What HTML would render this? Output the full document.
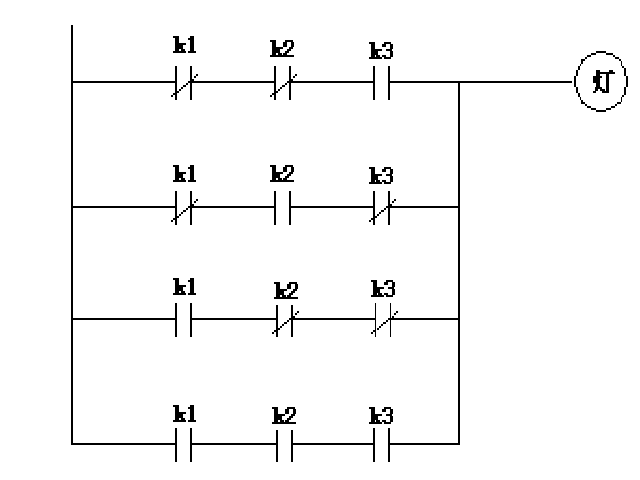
<!DOCTYPE html>
<html><head><meta charset="utf-8"><style>
html,body{margin:0;padding:0;background:#fff;width:640px;height:480px;overflow:hidden}
svg{display:block}
</style></head><body>
<svg width="640" height="480" viewBox="0 0 640 480">
<defs>
<g id="gk"><rect x="0" y="0" width="6" height="2"/><rect x="2" y="2" width="4" height="15"/><rect x="6" y="7" width="7" height="2"/><rect x="6" y="9" width="4" height="4"/><rect x="8" y="13" width="4" height="2"/><rect x="0" y="15" width="13" height="2"/></g><g id="gk3"><rect x="0" y="0" width="6" height="2"/><rect x="2" y="2" width="4" height="15"/><rect x="6" y="7" width="7" height="2"/><rect x="6" y="9" width="3" height="4"/><rect x="7" y="13" width="4" height="2"/><rect x="0" y="15" width="13" height="2"/></g><g id="gone"><rect x="17" y="0" width="4" height="2"/><rect x="15" y="2" width="6" height="2"/><rect x="17" y="4" width="4" height="11"/><rect x="15" y="15" width="8" height="2"/></g><g id="gtwo"><rect x="15" y="0" width="8" height="2"/><rect x="13" y="2" width="4" height="5"/><rect x="21" y="2" width="3" height="5"/><rect x="19" y="7" width="4" height="2"/><rect x="17" y="9" width="4" height="2"/><rect x="15" y="11" width="4" height="2"/><rect x="13" y="13" width="4" height="2"/><rect x="13" y="15" width="11" height="2"/></g><g id="gthree"><rect x="15" y="0" width="7" height="2"/><rect x="13" y="2" width="4" height="3"/><rect x="21" y="2" width="3" height="5"/><rect x="17" y="7" width="6" height="2"/><rect x="21" y="9" width="3" height="6"/><rect x="13" y="13" width="4" height="2"/><rect x="15" y="15" width="7" height="2"/></g>
<g id="g1"><use href="#gk"/><use href="#gone"/></g>
<g id="g2"><use href="#gk"/><use href="#gtwo"/></g>
<g id="g3"><use href="#gk3"/><use href="#gthree"/></g>
</defs>
<rect width="640" height="480" fill="#fff"/>
<g fill="#000" shape-rendering="crispEdges">
<rect x="71" y="25" width="2" height="420"/>
<rect x="458" y="81" width="2" height="364"/>
<rect x="175" y="66" width="2" height="34"/>
<rect x="190" y="66" width="2" height="34"/>
<rect x="171" y="95" width="2" height="2"/>
<rect x="173" y="93" width="2" height="2"/>
<rect x="177" y="91" width="2" height="2"/>
<rect x="179" y="89" width="2" height="2"/>
<rect x="181" y="87" width="2" height="2"/>
<rect x="183" y="85" width="3" height="2"/>
<rect x="186" y="83" width="2" height="2"/>
<rect x="188" y="81" width="2" height="2"/>
<rect x="192" y="79" width="2" height="2"/>
<rect x="194" y="76" width="2" height="2"/>
<rect x="196" y="74" width="2" height="2"/>
<rect x="274" y="66" width="2" height="34"/>
<rect x="289" y="66" width="2" height="34"/>
<rect x="270" y="95" width="2" height="2"/>
<rect x="272" y="93" width="2" height="2"/>
<rect x="276" y="91" width="2" height="2"/>
<rect x="278" y="89" width="2" height="2"/>
<rect x="280" y="87" width="2" height="2"/>
<rect x="282" y="85" width="3" height="2"/>
<rect x="285" y="83" width="2" height="2"/>
<rect x="287" y="81" width="2" height="2"/>
<rect x="291" y="79" width="2" height="2"/>
<rect x="293" y="76" width="2" height="2"/>
<rect x="295" y="74" width="2" height="2"/>
<rect x="373" y="66" width="2" height="34"/>
<rect x="388" y="66" width="2" height="34"/>
<rect x="71" y="81" width="104" height="2"/>
<rect x="192" y="81" width="82" height="2"/>
<rect x="291" y="81" width="82" height="2"/>
<rect x="390" y="81" width="182" height="2"/>
<rect x="175" y="191" width="2" height="34"/>
<rect x="190" y="191" width="2" height="34"/>
<rect x="171" y="220" width="2" height="2"/>
<rect x="173" y="218" width="2" height="2"/>
<rect x="177" y="216" width="2" height="2"/>
<rect x="179" y="214" width="2" height="2"/>
<rect x="181" y="212" width="2" height="2"/>
<rect x="183" y="210" width="3" height="2"/>
<rect x="186" y="208" width="2" height="2"/>
<rect x="188" y="206" width="2" height="2"/>
<rect x="192" y="204" width="2" height="2"/>
<rect x="194" y="201" width="2" height="2"/>
<rect x="196" y="199" width="2" height="2"/>
<rect x="274" y="191" width="2" height="34"/>
<rect x="289" y="191" width="2" height="34"/>
<rect x="373" y="191" width="2" height="34"/>
<rect x="388" y="191" width="2" height="34"/>
<rect x="369" y="220" width="2" height="2"/>
<rect x="371" y="218" width="2" height="2"/>
<rect x="375" y="216" width="2" height="2"/>
<rect x="377" y="214" width="2" height="2"/>
<rect x="379" y="212" width="2" height="2"/>
<rect x="381" y="210" width="3" height="2"/>
<rect x="384" y="208" width="2" height="2"/>
<rect x="386" y="206" width="2" height="2"/>
<rect x="390" y="204" width="2" height="2"/>
<rect x="392" y="201" width="2" height="2"/>
<rect x="394" y="199" width="2" height="2"/>
<rect x="71" y="206" width="104" height="2"/>
<rect x="192" y="206" width="82" height="2"/>
<rect x="291" y="206" width="82" height="2"/>
<rect x="390" y="206" width="70" height="2"/>
<rect x="175" y="303" width="2" height="34"/>
<rect x="190" y="303" width="2" height="34"/>
<rect x="276" y="305" width="2" height="32"/>
<rect x="291" y="305" width="2" height="32"/>
<rect x="272" y="332" width="2" height="2"/>
<rect x="274" y="330" width="2" height="2"/>
<rect x="278" y="328" width="2" height="2"/>
<rect x="280" y="326" width="2" height="2"/>
<rect x="282" y="324" width="2" height="2"/>
<rect x="284" y="322" width="3" height="2"/>
<rect x="287" y="320" width="2" height="2"/>
<rect x="289" y="318" width="2" height="2"/>
<rect x="293" y="316" width="2" height="2"/>
<rect x="295" y="313" width="2" height="2"/>
<rect x="297" y="311" width="2" height="2"/>
<rect x="375" y="303" width="1" height="34"/>
<rect x="390" y="303" width="1" height="34"/>
<rect x="371" y="332" width="2" height="2"/>
<rect x="373" y="330" width="2" height="2"/>
<rect x="377" y="328" width="2" height="2"/>
<rect x="379" y="326" width="2" height="2"/>
<rect x="381" y="324" width="2" height="2"/>
<rect x="383" y="322" width="3" height="2"/>
<rect x="386" y="320" width="2" height="2"/>
<rect x="388" y="318" width="2" height="2"/>
<rect x="392" y="316" width="2" height="2"/>
<rect x="394" y="313" width="2" height="2"/>
<rect x="396" y="311" width="2" height="2"/>
<rect x="71" y="318" width="104" height="2"/>
<rect x="192" y="318" width="84" height="2"/>
<rect x="293" y="318" width="82" height="2"/>
<rect x="391" y="318" width="69" height="2"/>
<rect x="175" y="428" width="2" height="34"/>
<rect x="190" y="428" width="2" height="34"/>
<rect x="276" y="430" width="2" height="32"/>
<rect x="291" y="430" width="2" height="32"/>
<rect x="373" y="428" width="2" height="34"/>
<rect x="388" y="428" width="2" height="34"/>
<rect x="71" y="443" width="104" height="2"/>
<rect x="192" y="443" width="84" height="2"/>
<rect x="293" y="443" width="80" height="2"/>
<rect x="390" y="443" width="70" height="2"/>
<use href="#g1" x="173" y="36"/>
<use href="#g2" x="270" y="40"/>
<use href="#g3" x="369" y="42"/>
<use href="#g1" x="173" y="165"/>
<use href="#g2" x="270" y="165"/>
<use href="#g3" x="369" y="167"/>
<use href="#g1" x="173" y="278"/>
<use href="#g2" x="274" y="282"/>
<use href="#g3" x="371" y="280"/>
<use href="#g1" x="173" y="405"/>
<use href="#g2" x="272" y="407"/>
<use href="#g3" x="369" y="407"/>
<rect x="596" y="70" width="4" height="2"/>
<rect x="609" y="70" width="4" height="2"/>
<rect x="596" y="72" width="19" height="2"/>
<rect x="596" y="74" width="4" height="2"/>
<rect x="606" y="74" width="3" height="19"/>
<rect x="593" y="76" width="9" height="2"/>
<rect x="593" y="78" width="7" height="5"/>
<rect x="596" y="83" width="4" height="4"/>
<rect x="595" y="87" width="7" height="2"/>
<rect x="595" y="89" width="3" height="2"/>
<rect x="600" y="89" width="5" height="2"/>
<rect x="593" y="91" width="3" height="2"/>
<rect x="602" y="91" width="7" height="2"/>
<rect x="596" y="51" width="10" height="2"/>
<rect x="591" y="53" width="5" height="2"/>
<rect x="606" y="53" width="7" height="2"/>
<rect x="587" y="55" width="4" height="2"/>
<rect x="613" y="55" width="2" height="2"/>
<rect x="585" y="57" width="2" height="2"/>
<rect x="615" y="57" width="4" height="2"/>
<rect x="581" y="59" width="4" height="2"/>
<rect x="619" y="59" width="2" height="2"/>
<rect x="581" y="61" width="2" height="3"/>
<rect x="621" y="61" width="1" height="5"/>
<rect x="580" y="64" width="1" height="2"/>
<rect x="622" y="66" width="2" height="2"/>
<rect x="578" y="66" width="2" height="4"/>
<rect x="576" y="70" width="2" height="6"/>
<rect x="624" y="68" width="2" height="8"/>
<rect x="574" y="76" width="2" height="11"/>
<rect x="626" y="76" width="2" height="11"/>
<rect x="576" y="87" width="2" height="6"/>
<rect x="624" y="87" width="2" height="8"/>
<rect x="578" y="93" width="2" height="4"/>
<rect x="622" y="95" width="2" height="2"/>
<rect x="580" y="97" width="1" height="3"/>
<rect x="621" y="97" width="1" height="5"/>
<rect x="581" y="100" width="2" height="2"/>
<rect x="581" y="102" width="4" height="2"/>
<rect x="617" y="102" width="4" height="2"/>
<rect x="585" y="104" width="2" height="2"/>
<rect x="615" y="104" width="2" height="2"/>
<rect x="587" y="106" width="4" height="2"/>
<rect x="611" y="106" width="4" height="2"/>
<rect x="591" y="108" width="5" height="2"/>
<rect x="606" y="108" width="5" height="2"/>
<rect x="596" y="110" width="10" height="2"/>
</g>
</svg>
</body></html>
